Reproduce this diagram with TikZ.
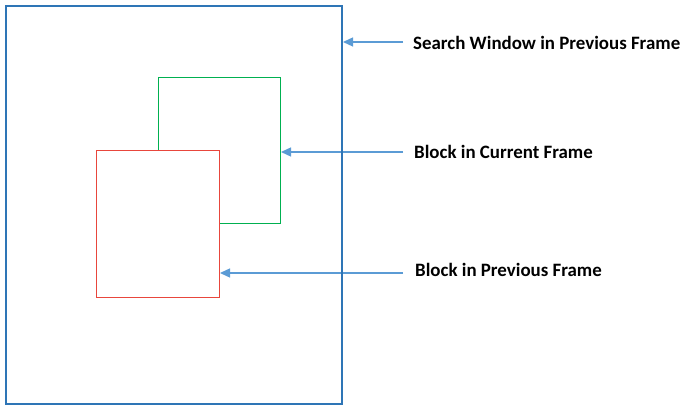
\documentclass[tikz,border=0pt]{standalone}
\usepackage{fontspec}
\setmainfont{Carlito}
\usetikzlibrary{arrows.meta}
\definecolor{winblue}{RGB}{46,117,182}
\definecolor{arrblue}{RGB}{91,155,213}
\definecolor{blkgreen}{RGB}{0,176,80}
\definecolor{blkred}{RGB}{232,70,60}
\tikzset{
  lbl/.style={anchor=west, inner sep=0pt, font=\bfseries\fontsize{18.9}{21}\selectfont},
  arr/.style={draw=arrblue, line width=1.3pt, -{Triangle[length=10pt,width=9pt]}},
}
\begin{document}
\begin{tikzpicture}[x=1pt,y=-1pt]
\useasboundingbox (0,0) rectangle (683,406);
\node[lbl] (t1) at (413,43) {Search Window in Previous Frame};
\node[lbl] (t2) at (414,152) {Block in Current Frame};
\node[lbl] (t3) at (415,270) {Block in Previous Frame};
\coordinate (s1) at (403,42);
\coordinate (e1) at (343,42);
\coordinate (s2) at (403,152);
\coordinate (e2) at (281,152);
\coordinate (s3) at (403,273);
\coordinate (e3) at (220,273);
\draw[arr] (s1) -- (e1);
\draw[arr] (s2) -- (e2);
\draw[arr] (s3) -- (e3);
\draw[winblue, line width=1.8pt] (6,6) rectangle (342,404);
\draw[blkgreen, line width=1pt] (158,78) rectangle (280,224);
\draw[blkred, line width=1pt, fill=white] (96,151) rectangle (219,297);
\end{tikzpicture}
\end{document}
